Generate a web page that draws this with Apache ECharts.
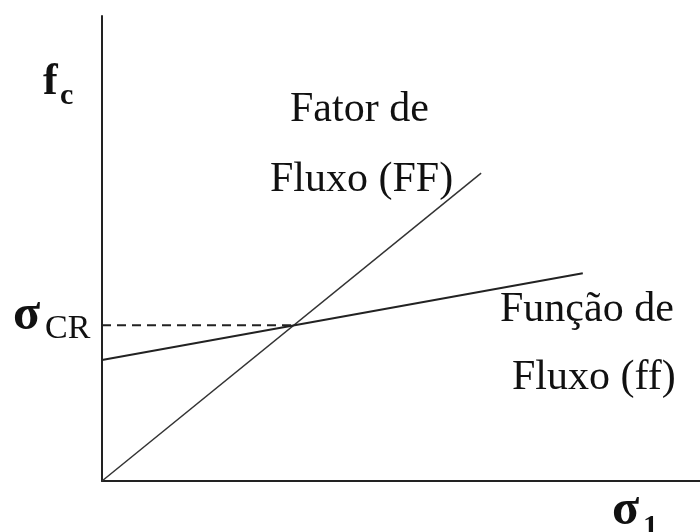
<!DOCTYPE html>
<html>
<head>
<meta charset="utf-8">
<script src="https://cdn.jsdelivr.net/npm/echarts@6/dist/echarts.min.js"></script>
<style>
  html, body { margin: 0; padding: 0; background: #fff; }
  #chart { width: 700px; height: 532px; }
</style>
</head>
<body>
<div id="chart"></div>
<script type="text/javascript">
// curvas do diagrama (escala 0..100)
var fatorFluxo = [[0, 0], [63.4, 66.2]];          // FF
var funcaoFluxo = [[0, 26.0], [80.4, 44.7]];      // ff
var sigmaCR = [[0, 33.5], [31.8, 33.5]];          // linha tracejada
var textos = {
  ff1: 'Fator de', ff2: 'Fluxo (FF)',
  fn1: 'Função de', fn2: 'Fluxo (ff)'
};

var serif = '"Liberation Serif", "DejaVu Serif", serif';
var chart = echarts.init(document.getElementById('chart'));

function txt(s, x, y, size, bold) {
  return {
    type: 'text', x: x, y: y,
    style: {
      text: s, fill: '#111',
      font: (bold ? 'bold ' : '') + size + 'px ' + serif,
      textAlign: 'left', textVerticalAlign: 'bottom'
    }
  };
}

var option = {
  animation: false,
  grid: { left: 102, right: 0, top: 16, bottom: 51 },
  xAxis: {
    type: 'value', min: 0, max: 100,
    axisLine: { lineStyle: { color: '#222', width: 2 } },
    axisTick: { show: false }, axisLabel: { show: false },
    splitLine: { show: false }
  },
  yAxis: {
    type: 'value', min: 0, max: 100,
    axisLine: { show: true, lineStyle: { color: '#222', width: 2 } },
    axisTick: { show: false }, axisLabel: { show: false },
    splitLine: { show: false }
  },
  series: [
    { type: 'line', data: fatorFluxo, symbol: 'none',
      lineStyle: { color: '#333', width: 1.5 } },
    { type: 'line', data: funcaoFluxo, symbol: 'none',
      lineStyle: { color: '#222', width: 2 } },
    { type: 'line', data: sigmaCR, symbol: 'none',
      lineStyle: { color: '#222', width: 2, type: [9, 6] } }
  ],
  graphic: [
    txt('f', 43, 105, 44, true),
    txt('c', 60, 111, 30, true),
    txt('σ', 13, 341, 50, true),
    txt('CR', 45, 346, 34, false),
    txt('σ', 612, 536, 50, true),
    txt('1', 643, 542, 30, true),
    txt(textos.ff1, 290, 131, 42, false),
    txt(textos.ff2, 270, 201, 42, false),
    txt(textos.fn1, 500, 331, 42, false),
    txt(textos.fn2, 512, 399, 42, false)
  ]
};

chart.setOption(option);
</script>
</body>
</html>
